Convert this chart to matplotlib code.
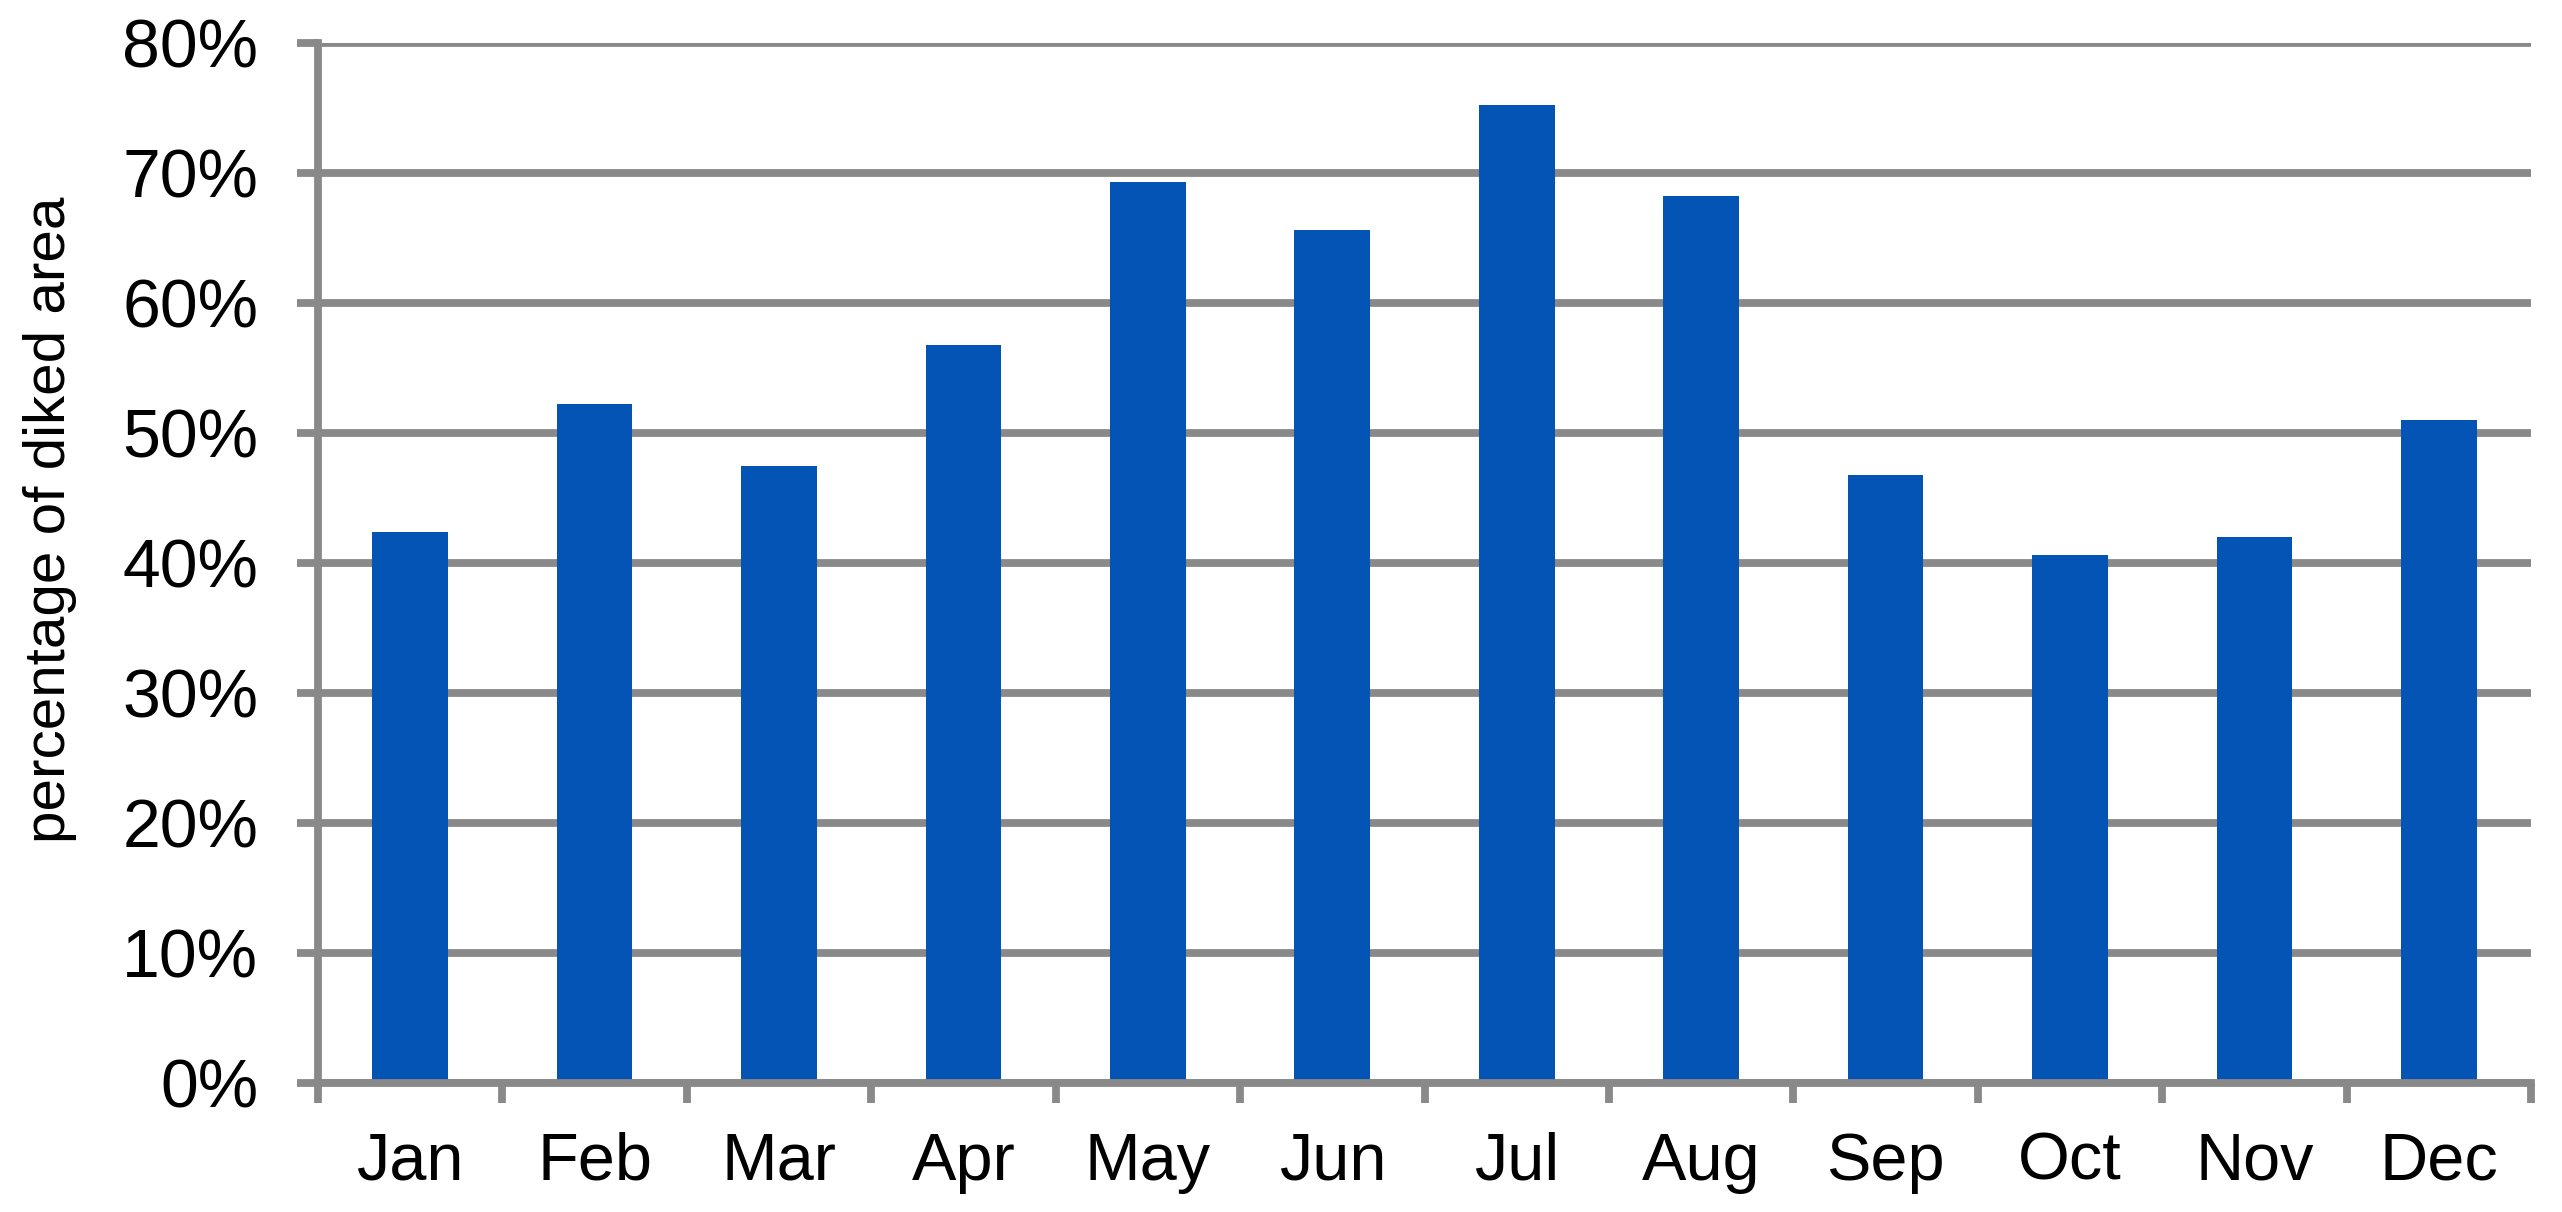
import matplotlib
matplotlib.use("Agg")
import matplotlib.pyplot as plt
from matplotlib.ticker import FixedLocator, PercentFormatter

months = ["Jan", "Feb", "Mar", "Apr", "May", "Jun", "Jul", "Aug", "Sep", "Oct", "Nov", "Dec"]
values = [42.4, 52.2, 47.5, 56.8, 69.3, 65.6, 75.2, 68.2, 46.8, 40.6, 42.0, 51.0]
yticks = [0, 10, 20, 30, 40, 50, 60, 70, 80]
ylabel = "percentage of diked area"

plt.rcParams['font.family'] = ['Liberation Sans', 'DejaVu Sans']

W, H, DPI = 2562, 1212, 100
fig = plt.figure(figsize=(W / DPI, H / DPI), dpi=DPI)
ax = fig.add_axes([318 / W, 1 - 1083 / H, (2531 - 318) / W, (1083 - 43) / H])

grid_c = "#898989"
bar_c = "#0354B5"
lw = 5.6

x = list(range(len(months)))
ax.bar(x, values, width=0.41, color=bar_c, zorder=3)

ax.set_xlim(-0.5, len(months) - 0.5)
ax.set_ylim(0, 80)
ax.set_yticks(yticks)
ax.yaxis.set_major_formatter(PercentFormatter(decimals=0))
ax.grid(axis='y', color=grid_c, linewidth=lw, zorder=1)
ax.set_axisbelow(True)

ax.xaxis.set_major_locator(FixedLocator([i - 0.5 for i in range(len(months) + 1)]))
ax.xaxis.set_minor_locator(FixedLocator(x))
ax.set_xticklabels([], minor=False)
ax.set_xticklabels(months, minor=True)
ax.tick_params(axis='x', which='major', direction='out', length=14.5, width=lw, color=grid_c)
ax.tick_params(axis='x', which='minor', length=0, pad=35, labelsize=48)
ax.tick_params(axis='y', direction='out', length=15, width=lw, color=grid_c, pad=28, labelsize=49)

for s in ['top', 'right']:
    ax.spines[s].set_visible(False)
for s in ['left', 'bottom']:
    ax.spines[s].set_color(grid_c)
    ax.spines[s].set_linewidth(lw)
    ax.spines[s].set_zorder(4)

ax.set_ylabel(ylabel, fontsize=42)
ax.yaxis.set_label_coords(-(318 - 77) / (2531 - 318), (1083 - 520) / 1040)

fig.savefig("out.png", dpi=DPI, facecolor="white")
